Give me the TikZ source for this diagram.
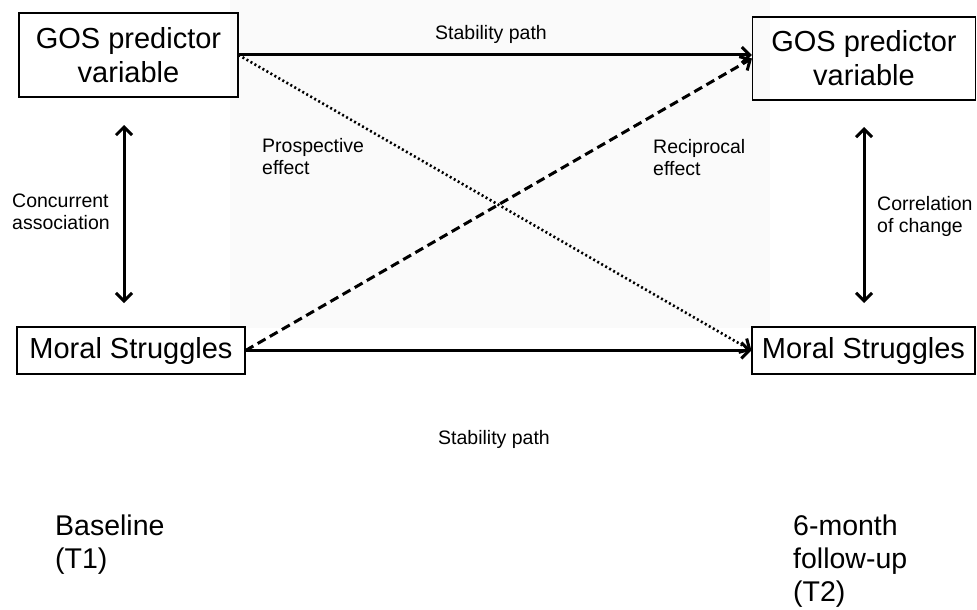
\documentclass[tikz,border=0pt]{standalone}
\usepackage{fontspec}
\setmainfont{Liberation Sans}
\usetikzlibrary{arrows.meta}
\begin{document}
\begin{tikzpicture}[x=1pt, y=-1pt,
   var/.style={draw, line width=1.1pt, align=center, inner sep=0pt,
     font=\fontsize{29}{34}\selectfont},
   lbl/.style={anchor=base west, align=left, inner sep=0pt,
     font=\fontsize{19.5}{22}\selectfont},
   big/.style={anchor=base west, align=left, inner sep=0pt,
     font=\fontsize{28.5}{33}\selectfont},
   tip/.style={Straight Barb[length=8pt, width=16pt, line width=3pt]},
   link/.style={line width=3pt, -{Straight Barb[length=8pt, width=16pt, line width=3pt]}},
   both/.style={line width=3pt, {Straight Barb[length=8pt, width=16pt, line width=3pt]}-{Straight Barb[length=8pt, width=16pt, line width=3pt]}}]
   \useasboundingbox (0,0) rectangle (977,610);
   \fill[black!2] (230,0) rectangle (770,328);
   \node[var, minimum width=219pt, minimum height=84pt] (gos1) at (128.5,55) {GOS predictor\\variable};
   \node[var, minimum width=223pt, minimum height=83pt] (gos2) at (864,58.5) {GOS predictor\\variable};
   \node[var, minimum width=228pt, minimum height=47pt] (ms1) at (131,350.5) {Moral Struggles};
   \node[var, minimum width=223pt, minimum height=47pt] (ms2) at (863.5,350.5) {Moral Struggles};
   \coordinate (c1t) at (124,125);
   \coordinate (c1b) at (124,303);
   \coordinate (c2t) at (864,127);
   \coordinate (c2b) at (864,303);
   \draw[link] (gos1.east) -- (gos1.east -| gos2.west);
   \draw[link] (ms1.east) -- (ms2.west);
   \draw[link, dash pattern=on 9pt off 5pt] (ms1.east) -- (gos2.west);
   \draw[link, line width=2.6pt, dash pattern=on 2pt off 2.6pt] (gos1.east) -- (ms2.west);
   \draw[both] (c1t) -- (c1b);
   \draw[both] (c2t) -- (c2b);
   \node[lbl] (stab1) at (435,40) {Stability path};
   \node[lbl] (pros) at (262,174) {Prospective\\effect};
   \node[lbl] (reci) at (653,175) {Reciprocal\\effect};
   \node[lbl] (conc) at (12,229) {Concurrent\\association};
   \node[lbl] (corr) at (877,232) {Correlation\\of change};
   \node[lbl] (stab2) at (438,444) {Stability path};
   \node[big] (t1) at (55,568) {Baseline\\(T1)};
   \node[big] (t2) at (793,601) {6-month\\follow-up\\(T2)};
\end{tikzpicture}
\end{document}
